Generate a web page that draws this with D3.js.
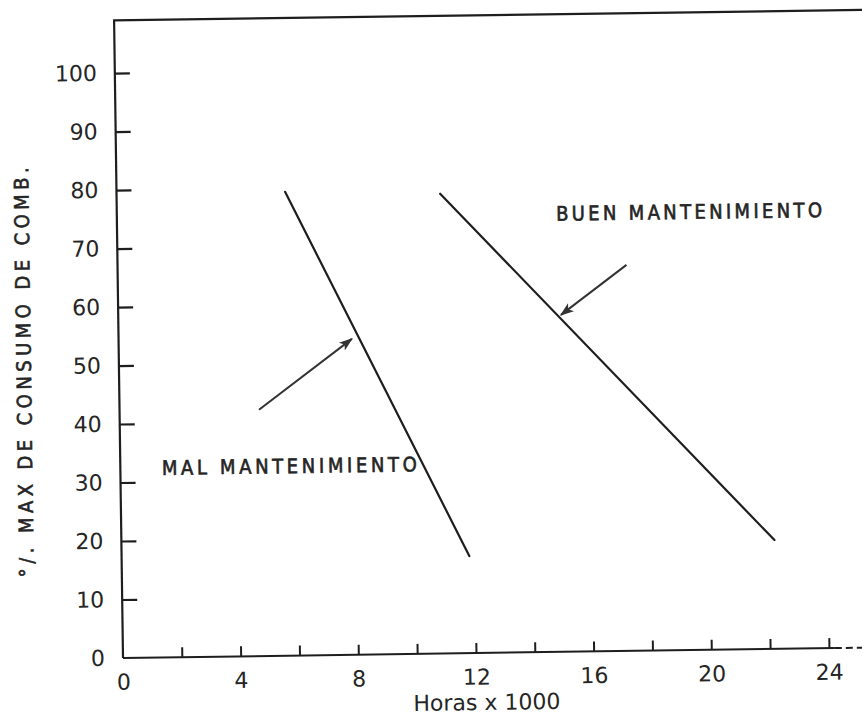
<!DOCTYPE html>
<html>
<head>
<meta charset="utf-8">
<script src="https://cdn.jsdelivr.net/npm/d3@7"></script>
<style>
  html, body { margin: 0; padding: 0; background: #fff; }
  svg { display: block; }
  text { fill: #252525; }
</style>
</head>
<body>
<div id="chart"></div>
<script>
// Horas de operación (miles) en el eje X, % máximo de consumo en el eje Y
const xTickValues = [0, 2, 4, 6, 8, 10, 12, 14, 16, 18, 20, 22, 24];
const xTickLabels = [0, 4, 8, 12, 16, 20, 24];
const yTickValues = [0, 10, 20, 30, 40, 50, 60, 70, 80, 90, 100];

// Rectas de consumo: [horas x 1000, % consumo]
const malMantenimiento = [[5.73, 79.3], [11.82, 16.6]];
const buenMantenimiento = [[11.0, 78.6], [22.2, 18.6]];

// Flechas que señalan cada recta: [origen, punta]
const malFlecha = [[4.74, 42.1], [7.93, 54.0]];
const buenFlecha = [[17.3, 66.0], [15.05, 57.6]];

// Rótulos: [texto, horas, %, ancho]
const rotulos = [
  ["MAL MANTENIMIENTO", 1.41, 31.2, 255],
  ["BUEN MANTENIMIENTO", 14.93, 73.7, 266]
];

const W = 862, H = 715;
const origin = [123, 658];
const tilt = -0.8;          // the drawing sits slightly rotated on the sheet
const frameTop = 109;        // top border of the frame, in % units
const xEnd = 26;             // x axis continues past 24 as a dashed stub

const x = d3.scaleLinear().domain([0, 24]).range([0, 706]);
const y = d3.scaleLinear().domain([0, 100]).range([0, -585]);

const svg = d3.select("#chart").append("svg")
  .attr("width", W).attr("height", H)
  .attr("viewBox", `0 0 ${W} ${H}`);

const g = svg.append("g")
  .attr("transform", `translate(${origin[0]},${origin[1]}) rotate(${tilt})`);

const ink = "#1e1e1e";
const numFont = "'DejaVu Sans', sans-serif";
const letterFont = "'DejaVu Sans Condensed', 'DejaVu Sans', sans-serif";

// Frame: left axis and top border
g.append("line")
  .attr("x1", x(0)).attr("y1", y(0)).attr("x2", x(0)).attr("y2", y(frameTop))
  .attr("stroke", ink).attr("stroke-width", 2.2);
g.append("line")
  .attr("x1", x(0) - 1).attr("y1", y(frameTop)).attr("x2", x(xEnd)).attr("y2", y(frameTop))
  .attr("stroke", ink).attr("stroke-width", 2.2);

// X axis baseline, solid up to 24 then dashed
g.append("line")
  .attr("x1", x(0)).attr("y1", y(0)).attr("x2", x(24.2)).attr("y2", y(0))
  .attr("stroke", ink).attr("stroke-width", 2);
g.append("line")
  .attr("x1", x(24.2)).attr("y1", y(0)).attr("x2", x(xEnd)).attr("y2", y(0))
  .attr("stroke", ink).attr("stroke-width", 2).attr("stroke-dasharray", "7,4");

// Y axis: ticks point inward, labels on the left
const yAxis = d3.axisLeft(y)
  .tickValues(yTickValues)
  .tickSizeInner(-15).tickSizeOuter(0).tickPadding(18)
  .tickFormat(d3.format("d"));
const yg = g.append("g").call(yAxis);
yg.select(".domain").remove();
yg.selectAll(".tick line").attr("stroke", ink).attr("stroke-width", 2.2)
  .filter(d => d === 0).remove();
yg.selectAll(".tick text")
  .attr("font-family", numFont).attr("font-size", 22).attr("fill", "#252525");

// X axis: ticks every 2, labels every 4
const xAxis = d3.axisBottom(x)
  .tickValues(xTickValues)
  .tickSizeInner(-10).tickSizeOuter(0).tickPadding(16)
  .tickFormat(d => xTickLabels.includes(d) ? d3.format("d")(d) : "");
const xg = g.append("g").call(xAxis);
xg.select(".domain").remove();
xg.selectAll(".tick line").attr("stroke", ink).attr("stroke-width", 2)
  .filter(d => d === 0).remove();
xg.selectAll(".tick text")
  .attr("font-family", numFont).attr("font-size", 22).attr("fill", "#252525");

// Axis titles
g.append("text")
  .attr("x", x(12.35)).attr("y", 57)
  .attr("text-anchor", "middle")
  .attr("font-family", numFont).attr("font-size", 22)
  .text("Horas x 1000");

g.append("text")
  .attr("transform", `translate(-88,-287) rotate(-90)`)
  .attr("text-anchor", "middle")
  .attr("font-family", letterFont).attr("font-size", 20)
  .attr("stroke", "#252525").attr("stroke-width", 0.6)
  .attr("textLength", 410).attr("lengthAdjust", "spacing")
  .text("°/. MAX DE CONSUMO DE COMB.");

// Consumption lines
const line = d3.line().x(d => x(d[0])).y(d => y(d[1]));
[malMantenimiento, buenMantenimiento].forEach(pts => {
  g.append("path")
    .attr("d", line(pts))
    .attr("fill", "none").attr("stroke", ink)
    .attr("stroke-width", 2.2).attr("stroke-linecap", "round");
});

// Arrowhead marker
svg.append("defs").append("marker")
  .attr("id", "punta")
  .attr("viewBox", "0 0 10 10")
  .attr("refX", 9).attr("refY", 5)
  .attr("markerWidth", 7).attr("markerHeight", 7)
  .attr("markerUnits", "strokeWidth")
  .attr("orient", "auto")
  .append("path")
  .attr("d", "M0,1.5 L10,5 L0,8.5 L2.5,5 Z")
  .attr("fill", "#333");

[malFlecha, buenFlecha].forEach(pts => {
  g.append("path")
    .attr("d", line(pts))
    .attr("fill", "none").attr("stroke", "#333")
    .attr("stroke-width", 2)
    .attr("marker-end", "url(#punta)");
});

// Annotation labels
rotulos.forEach(([t, h, p, len]) => {
  g.append("text")
    .attr("x", x(h)).attr("y", y(p))
    .attr("font-family", letterFont)
    .attr("font-size", 20)
    .attr("stroke", "#252525").attr("stroke-width", 0.6)
    .attr("textLength", len).attr("lengthAdjust", "spacing")
    .text(t);
});
</script>
</body>
</html>
